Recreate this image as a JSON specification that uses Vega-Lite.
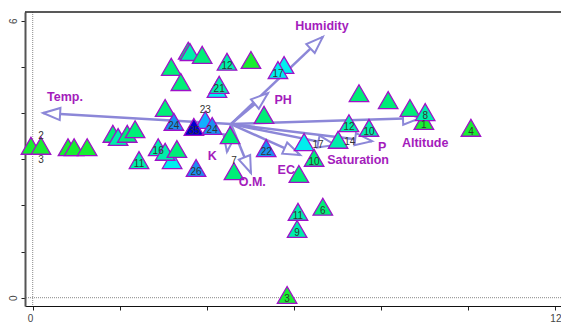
{
  "$schema": "https://vega.github.io/schema/vega-lite/v6.json",
  "autosize": "none",
  "width": 536,
  "height": 294,
  "padding": {"left": 25, "top": 12, "right": 0, "bottom": 19},
  "background": "white",
  "config": {
    "view": {"stroke": null},
    "font": "Liberation Sans",
    "axis": {"labelFont": "Liberation Sans", "labelFontSize": 10, "labelColor": "#444", "grid": false}
  },
  "datasets": {
    "sites": [
      {"x": -0.04, "y": 3.29, "lab": "", "g": "g1"},
      {"x": 0.19, "y": 3.29, "lab": "", "g": "g1"},
      {"x": 0.81, "y": 3.26, "lab": "", "g": "g1"},
      {"x": 0.95, "y": 3.26, "lab": "", "g": "g1"},
      {"x": 1.25, "y": 3.26, "lab": "", "g": "g1"},
      {"x": 1.84, "y": 3.55, "lab": "", "g": "g2"},
      {"x": 1.96, "y": 3.48, "lab": "", "g": "g3"},
      {"x": 2.17, "y": 3.55, "lab": "", "g": "g2"},
      {"x": 2.35, "y": 3.65, "lab": "", "g": "g2"},
      {"x": 2.44, "y": 2.98, "lab": "11", "g": "g3"},
      {"x": 3.20, "y": 2.98, "lab": "", "g": "g4"},
      {"x": 2.88, "y": 3.26, "lab": "16", "g": "g3"},
      {"x": 3.04, "y": 3.16, "lab": "", "g": "g3"},
      {"x": 3.31, "y": 3.22, "lab": "", "g": "g2"},
      {"x": 3.75, "y": 2.81, "lab": "26", "g": "g5"},
      {"x": 3.04, "y": 4.11, "lab": "", "g": "g2"},
      {"x": 3.18, "y": 5.00, "lab": "", "g": "g2"},
      {"x": 3.40, "y": 4.67, "lab": "", "g": "g2"},
      {"x": 3.57, "y": 5.35, "lab": "", "g": "g2"},
      {"x": 3.61, "y": 5.32, "lab": "", "g": "g3"},
      {"x": 3.89, "y": 5.26, "lab": "", "g": "g2"},
      {"x": 4.46, "y": 5.11, "lab": "12", "g": "g3"},
      {"x": 5.01, "y": 5.15, "lab": "", "g": "g1"},
      {"x": 4.23, "y": 4.52, "lab": "", "g": "g4"},
      {"x": 4.28, "y": 4.61, "lab": "21", "g": "g3"},
      {"x": 5.77, "y": 5.04, "lab": "", "g": "g4"},
      {"x": 5.63, "y": 4.93, "lab": "17", "g": "g4"},
      {"x": 3.24, "y": 3.81, "lab": "24", "g": "g5"},
      {"x": 3.96, "y": 3.85, "lab": "", "g": "g6"},
      {"x": 3.70, "y": 3.70, "lab": "35", "g": "g7"},
      {"x": 4.12, "y": 3.72, "lab": "24", "g": "g5"},
      {"x": 4.53, "y": 3.52, "lab": "", "g": "g2"},
      {"x": 5.31, "y": 3.96, "lab": "", "g": "g2"},
      {"x": 5.36, "y": 3.24, "lab": "22", "g": "g5"},
      {"x": 4.62, "y": 2.74, "lab": "", "g": "g2"},
      {"x": 6.23, "y": 3.37, "lab": "", "g": "g4"},
      {"x": 7.01, "y": 3.42, "lab": "", "g": "g3"},
      {"x": 6.46, "y": 3.03, "lab": "10", "g": "g2"},
      {"x": 6.11, "y": 2.68, "lab": "", "g": "g2"},
      {"x": 7.26, "y": 3.78, "lab": "12", "g": "g3"},
      {"x": 7.72, "y": 3.68, "lab": "10", "g": "g3"},
      {"x": 7.49, "y": 4.43, "lab": "", "g": "g2"},
      {"x": 8.16, "y": 4.28, "lab": "", "g": "g2"},
      {"x": 8.66, "y": 4.11, "lab": "", "g": "g2"},
      {"x": 8.98, "y": 3.83, "lab": "1", "g": "g1"},
      {"x": 9.01, "y": 4.02, "lab": "8", "g": "g3"},
      {"x": 10.06, "y": 3.68, "lab": "4", "g": "g1"},
      {"x": 6.66, "y": 1.97, "lab": "6", "g": "g2"},
      {"x": 6.09, "y": 1.86, "lab": "11", "g": "g3"},
      {"x": 6.07, "y": 1.49, "lab": "9", "g": "g3"},
      {"x": 5.84, "y": 0.06, "lab": "3", "g": "g1"}
    ],
    "notes": [
      {"x": 0.19, "y": 3.50, "lab": "2"},
      {"x": 0.19, "y": 2.98, "lab": "3"},
      {"x": 3.96, "y": 4.07, "lab": "23"},
      {"x": 4.62, "y": 2.96, "lab": "7"},
      {"x": 6.55, "y": 3.31, "lab": "17"},
      {"x": 7.28, "y": 3.37, "lab": "14"}
    ],
    "arrows": [
      {"name": "Temp.", "ox": 4.55, "oy": 3.76, "tx": 0.24, "ty": 4.00},
      {"name": "Humidity", "ox": 4.55, "oy": 3.76, "tx": 6.66, "ty": 5.65},
      {"name": "PH", "ox": 4.55, "oy": 3.76, "tx": 5.40, "ty": 4.43},
      {"name": "Altitude", "ox": 4.55, "oy": 3.76, "tx": 8.89, "ty": 3.89},
      {"name": "P", "ox": 4.55, "oy": 3.76, "tx": 7.79, "ty": 3.39},
      {"name": "Saturation", "ox": 4.55, "oy": 3.76, "tx": 6.94, "ty": 3.31},
      {"name": "EC", "ox": 4.55, "oy": 3.76, "tx": 6.14, "ty": 3.09},
      {"name": "K", "ox": 4.55, "oy": 3.76, "tx": 4.46, "ty": 3.16},
      {"name": "O.M.", "ox": 4.55, "oy": 3.76, "tx": 5.01, "ty": 2.70}
    ],
    "envlabels": [
      {"name": "Temp.", "x": 0.74, "y": 4.35},
      {"name": "Humidity", "x": 6.64, "y": 5.89},
      {"name": "PH", "x": 5.75, "y": 4.28},
      {"name": "Altitude", "x": 9.01, "y": 3.35},
      {"name": "P", "x": 8.02, "y": 3.26},
      {"name": "Saturation", "x": 7.47, "y": 2.98},
      {"name": "EC", "x": 5.82, "y": 2.77},
      {"name": "K", "x": 4.12, "y": 3.07},
      {"name": "O.M.", "x": 5.04, "y": 2.51}
    ]
  },
  "layer": [
    {
      "data": {"name": "sites"},
      "mark": {"type": "point", "shape": "triangle-up", "filled": true, "size": 0, "opacity": 0},
      "encoding": {
        "x": {"field": "x", "type": "quantitative", "title": null, "scale": {"domain": [-0.177, 12.128], "nice": false, "zero": false},
          "axis": {"title": null, "values": [0, 2, 4, 6, 8, 10, 12], "labelExpr": "datum.value == 0 || datum.value == 12 ? datum.label : ''", "tickSize": 4, "tickColor": "#222", "domainColor": "#111", "labelPadding": 3,
            "labelAlign": {"condition": {"test": "datum.value == 0", "value": "right"}, "value": "center"}}},
        "y": {"field": "y", "type": "quantitative", "title": null, "scale": {"domain": [-0.180, 6.188], "nice": false, "zero": false},
          "axis": {"title": null, "values": [0, 1, 2, 3, 4, 5, 6], "labelExpr": "datum.value == 0 || datum.value == 6 ? datum.label : ''", "tickSize": 4, "tickColor": "#222", "domainColor": "#555", "domainWidth": 2, "labelAngle": 270, "labelFlush": true, "labelPadding": 3}}
      }
    },
    {
      "data": {"values": [{"v": 0}]},
      "mark": {"type": "rule", "color": "#888", "strokeDash": [1, 1], "strokeWidth": 1},
      "encoding": {
        "x": {"field": "v", "type": "quantitative", "title": null}
      }
    },
    {
      "data": {"values": [{"v": 0}]},
      "mark": {"type": "rule", "color": "#888", "strokeDash": [1, 1], "strokeWidth": 1},
      "encoding": {
        "y": {"field": "v", "type": "quantitative", "title": null}
      }
    },
    {
      "data": {"values": [{"v": 6.188}]},
      "mark": {"type": "rule", "color": "#222", "strokeWidth": 1.5},
      "encoding": {
        "y": {"field": "v", "type": "quantitative", "title": null}
      }
    },
    {
      "data": {"name": "arrows"},
      "mark": {"type": "rule", "color": "#8c87d8", "strokeWidth": 2.5},
      "encoding": {
        "x": {"field": "ox", "type": "quantitative", "title": null},
        "y": {"field": "oy", "type": "quantitative", "title": null},
        "x2": {"field": "tx"},
        "y2": {"field": "ty"}
      }
    },
    {
      "data": {"name": "arrows"},
      "transform": [
        {"calculate": "atan2((datum.tx - datum.ox) * 43.56, (datum.ty - datum.oy) * 46.17) * 180 / PI", "as": "ang"}
      ],
      "mark": {"type": "point", "shape": "M0,0L-0.36,1L0.36,1Z", "filled": true, "fill": "white", "stroke": "#8c87d8", "strokeWidth": 2, "size": 1150, "opacity": 1},
      "encoding": {
        "x": {"field": "tx", "type": "quantitative", "title": null},
        "y": {"field": "ty", "type": "quantitative", "title": null},
        "angle": {"field": "ang", "type": "quantitative", "scale": null}
      }
    },
    {
      "data": {"name": "sites"},
      "mark": {"type": "point", "shape": "triangle-up", "filled": true, "size": 380, "stroke": "#a010c8", "strokeWidth": 1.3, "opacity": 1},
      "encoding": {
        "x": {"field": "x", "type": "quantitative", "title": null},
        "y": {"field": "y", "type": "quantitative", "title": null},
        "fill": {"field": "g", "type": "nominal", "legend": null,
          "scale": {"domain": ["g1", "g2", "g3", "g4", "g5", "g6", "g7"], "range": ["#18ee30", "#00ee77", "#00eeaa", "#00eeee", "#1a8ff0", "#10b0ff", "#0000cc"]}}
      }
    },
    {
      "data": {"name": "sites"},
      "mark": {"type": "text", "fontSize": 10, "color": "#333", "dy": 4, "baseline": "middle", "align": "center"},
      "encoding": {
        "x": {"field": "x", "type": "quantitative", "title": null},
        "y": {"field": "y", "type": "quantitative", "title": null},
        "text": {"field": "lab"}
      }
    },
    {
      "data": {"name": "notes"},
      "mark": {"type": "text", "fontSize": 10, "color": "#333", "baseline": "middle", "align": "center"},
      "encoding": {
        "x": {"field": "x", "type": "quantitative", "title": null},
        "y": {"field": "y", "type": "quantitative", "title": null},
        "text": {"field": "lab"}
      }
    },
    {
      "data": {"name": "envlabels"},
      "mark": {"type": "text", "fontSize": 12.5, "fontWeight": "bold", "color": "#a41cbc", "baseline": "middle", "align": "center"},
      "encoding": {
        "x": {"field": "x", "type": "quantitative", "title": null},
        "y": {"field": "y", "type": "quantitative", "title": null},
        "text": {"field": "name"}
      }
    }
  ]
}
